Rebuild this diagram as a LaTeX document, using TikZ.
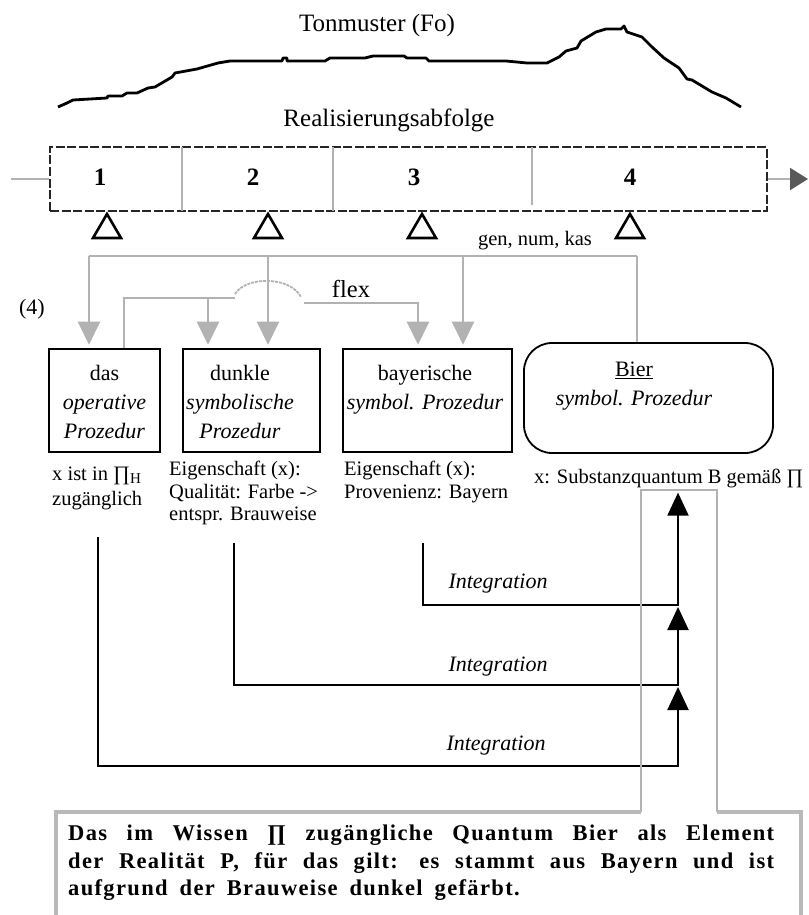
\documentclass[tikz,border=0pt]{standalone}
\usepackage{fontspec}
\setmainfont{Liberation Serif}
\newfontfamily\notefont[LetterSpace=6]{Liberation Serif}
\usetikzlibrary{arrows.meta}

\tikzset{
  feed/.style={gray!60, line width=2.4pt},
  feedtip/.style={feed, -{Triangle[width=22pt,length=23pt]}, shorten >=3pt},
  integ/.style={line width=2pt},
  integtip/.style={integ, -{Triangle[width=21pt,length=23pt]}},
}

\begin{document}
\begin{tikzpicture}[x=1pt, y=-1pt, every node/.style={inner sep=0pt},
  big/.style={font=\fontsize{25}{30}\selectfont, anchor=base},
  num/.style={font=\fontsize{25}{30}\selectfont\bfseries, anchor=base},
  txt/.style={font=\fontsize{20.5}{22.5}\selectfont},
  sub/.style={txt, align=left, anchor=north west},
  box/.style={draw, line width=2.6pt, minimum height=103pt},
  inbox/.style={font=\fontsize{22}{29}\selectfont, align=center, anchor=north},
  itl/.style={font=\fontsize{22}{26}\selectfont\itshape, anchor=base},
  note/.style={text width=706pt, align=justify, anchor=north west,
    font=\notefont\bfseries\fontsize{22.5}{27.5}\selectfont}]
\useasboundingbox (0,0) rectangle (808,915);

% Tonmuster
\node[big] (ton) at (377,32) {Tonmuster (Fo)};
\draw[line width=2.8pt, line join=round] plot coordinates {(58,107) (67,103) (73,100) (107,98) (108,96) (122,96) (127,93) (137,93) (148,88) (155,87) (172,77) (175,73) (197,69) (218,63) (230,61) (282,61) (283,58) (287,58) (287,61) (325,61) (330,58) (365,58) (373,56) (404,56) (407,58) (426,58) (429,61) (437,61) (506,61) (527,63) (547,63) (551,61) (559,57) (566,51) (577,48) (581,41) (586,38) (596,32) (606,29) (621,29) (624,26) (627,32) (642,37) (652,47) (664,58) (679,68) (687,79) (692,80) (712,92) (726,98) (741,107)};
\node[big] (real) at (389,127) {Realisierungsabfolge};

% Realisierungsabfolge
\node[draw=black!85, line width=2.4pt, dash pattern=on 9pt off 2.5pt, minimum width=717pt, minimum height=64pt] (seq) at (408.5,179) {};
\coordinate (in) at (11,179);
\coordinate (out) at (808,179);
\draw[gray!60, line width=2pt] (in) -- (seq.west);
\draw[gray!60, line width=2pt, -{Triangle[width=22pt,length=18pt,color=black!65]}] (seq.east) -- (out);
\foreach \x in {182,333} {\draw[gray!60, line width=1.3pt] (\x,147) -- (\x,211);}
\draw[gray!60, line width=1.3pt] (532,147) -- (532,205);
\foreach \x/\n in {100/1, 253/2, 414/3, 630/4} {\node[num] (n\n) at (\x,185) {\n};}
\foreach \x in {107,268,422,630} {\draw[line width=2.6pt] (\x,214) -- (\x+14,238) -- (\x-14,238) -- cycle;}
\node[txt, anchor=base] (gnk) at (535,245) {gen, num, kas};

% Prozeduren
\node[box, minimum width=111pt] (das) at (104.5,400.5) {};
\node[box, minimum width=137pt] (dunkle) at (251.5,400.5) {};
\node[box, minimum width=169pt] (bayer) at (427.5,400.5) {};
\node[draw, line width=1.8pt, rounded corners=28pt, minimum width=249pt, minimum height=110pt] (bier) at (648.5,398) {};
\node[inbox] (das-t) at (104.5,365) {das\\{\itshape operative}\\{\itshape Prozedur}};
\node[inbox] (dunkle-t) at (240,365) {dunkle\\{\itshape symbolische}\\{\itshape Prozedur}};
\node[inbox] (bayer-t) at (425,365) {bayerische\\{\itshape symbol. Prozedur}};
\node[inbox] (bier-t) at (634,362) {\underline{Bier}\\{\itshape symbol. Prozedur}};

% gen, num, kas / flex
\coordinate (b1) at (89,256);
\coordinate (b2) at (268,256);
\coordinate (b3) at (463,256);
\coordinate (b4) at (637,256);
\draw[feed] (b1) -- (b4);
\draw[feedtip] (b1) -- (b1 |- das.north);
\draw[feedtip] (b2) -- (b2 |- dunkle.north);
\draw[feedtip] (b3) -- (b3 |- bayer.north);
\draw[feed] (b4) -- (b4 |- bier.north);
\coordinate (f1) at (124,298);
\coordinate (f2) at (208,298);
\coordinate (f3) at (235,298);
\coordinate (f4) at (304,303);
\coordinate (f5) at (418,303);
\draw[feed] (das.north -| f1) -- (f1) -- (f3);
\draw[feedtip] (f2) -- (f2 |- dunkle.north);
\draw[feed, line width=1.8pt, dash pattern=on 3pt off 1pt] (235,294) .. controls (246,276) and (290,276) .. (301,297);
\draw[feedtip] (f4) -- (f5) -- (f5 |- bayer.north);
\node[font=\fontsize{24.5}{28}\selectfont, anchor=base] (flex) at (351,297) {flex};
\node[font=\fontsize{22}{26}\selectfont, anchor=base] (four) at (32,314) {(4)};

% Eigenschaften
\node[sub] (das-s) at (52,467) {x ist in ∏\raisebox{-3pt}{\fontsize{15}{15}\selectfont H}\\[2.5pt]zugänglich};
\node[sub] (dunkle-s) at (169,461) {Eigenschaft (x):\\Qualität: Farbe ->\\entspr. Brauweise};
\node[sub] (bayer-s) at (344,461) {Eigenschaft (x):\\Provenienz: Bayern};
\node[txt, anchor=base west] (bier-s) at (534,483) {x: Substanzquantum B gemäß ∏};

% Integration
\coordinate (s1) at (423,543);
\coordinate (s2) at (234,543);
\coordinate (s3) at (98,537);
\coordinate (m1) at (678,605);
\coordinate (m2) at (678,685);
\coordinate (m3) at (678,766);
\draw[integtip, shorten >=5pt] (s1) |- (m1) -- (m1 |- bier-s.south);
\draw[integtip, shorten >=2pt] (s2) |- (m2) -- (m1);
\draw[integtip, shorten >=2pt] (s3) |- (m3) -- (m2);
\node[itl] (int1) at (498,588) {Integration};
\node[itl] (int2) at (498,671) {Integration};
\node[itl] (int3) at (496,750) {Integration};

% Resultat
\coordinate (c1) at (641,812);
\coordinate (c2) at (641,490);
\coordinate (c3) at (717,490);
\coordinate (c4) at (717,812);
\draw[feed] (c1) -- (c2) -- (c3) -- (c4);
\draw[gray!55, line width=4pt] (56,925) -- (56,812) -- (c1) (c4) -- (801,812) -- (801,925);
\node[note] (concl) at (68,825) {\spaceskip=12pt plus 14pt minus 2pt Das im Wissen ∏ zugängliche Quantum Bier als Element\linebreak der Realität P, für das gilt: es stammt aus Bayern und ist\linebreak aufgrund der Brauweise dunkel gefärbt.};
\end{tikzpicture}
\end{document}
